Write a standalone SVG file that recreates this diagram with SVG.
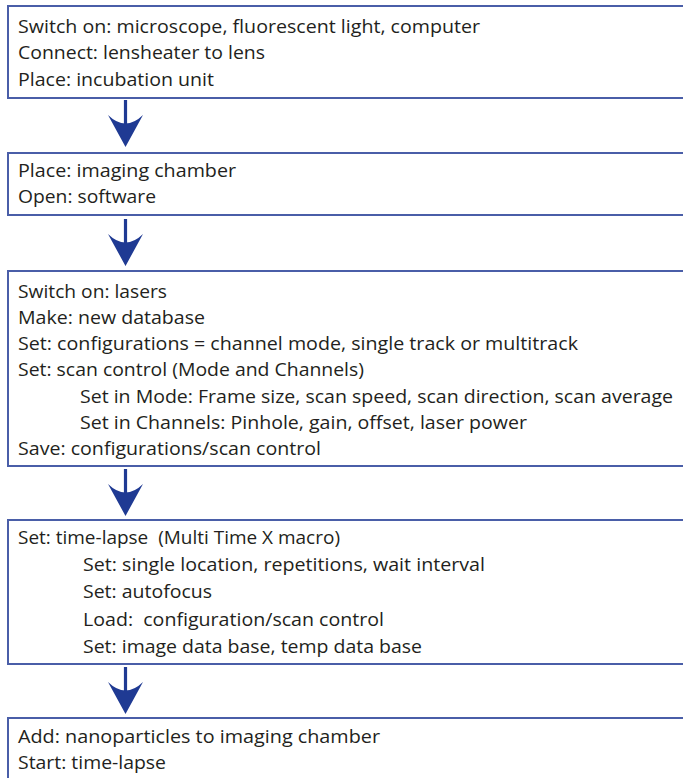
<svg xmlns="http://www.w3.org/2000/svg" xmlns:xlink="http://www.w3.org/1999/xlink" width="683" height="778" viewBox="0 0 683 778">
<style>
.box{fill:#ffffff;stroke:#4a5ea8;stroke-width:2}
text{font-family:"Open Sans","Noto Sans","Liberation Sans",sans-serif;font-size:19px;fill:#231f20}
.arr{fill:#1f3a93}
</style>
<defs>
<g id="arrow">
<rect x="-1.6" y="0" width="3.2" height="26" class="arr"/>
<path d="M-17.5,15 Q0,32 17.5,15 L0,47 Z" class="arr"/>
</g>
</defs>
<rect width="683" height="778" fill="#ffffff"/>
<g id="connectors">
<use xlink:href="#arrow" x="125.5" y="100"/>
<use xlink:href="#arrow" x="125.5" y="219"/>
<use xlink:href="#arrow" x="125.5" y="469"/>
<use xlink:href="#arrow" x="125.5" y="667"/>
</g>
<g id="step1">
<rect class="box" x="8" y="6" width="690" height="92"/>
<text x="18" y="33" textLength="462" lengthAdjust="spacingAndGlyphs">Switch on: microscope, fluorescent light, computer</text>
<text x="18" y="59" textLength="247" lengthAdjust="spacingAndGlyphs">Connect: lensheater to lens</text>
<text x="18" y="86" textLength="196" lengthAdjust="spacingAndGlyphs">Place: incubation unit</text>
</g>
<g id="step2">
<rect class="box" x="8" y="153" width="690" height="62"/>
<text x="18" y="177" textLength="218" lengthAdjust="spacingAndGlyphs">Place: imaging chamber</text>
<text x="18" y="203" textLength="138" lengthAdjust="spacingAndGlyphs">Open: software</text>
</g>
<g id="step3">
<rect class="box" x="8" y="271" width="690" height="195"/>
<text x="18" y="298" textLength="149" lengthAdjust="spacingAndGlyphs">Switch on: lasers</text>
<text x="18" y="324" textLength="187" lengthAdjust="spacingAndGlyphs">Make: new database</text>
<text x="18" y="350" textLength="560" lengthAdjust="spacingAndGlyphs">Set: configurations = channel mode, single track or multitrack</text>
<text x="18" y="376" textLength="346" lengthAdjust="spacingAndGlyphs">Set: scan control (Mode and Channels)</text>
<text x="80" y="403" textLength="593" lengthAdjust="spacingAndGlyphs">Set in Mode: Frame size, scan speed, scan direction, scan average</text>
<text x="80" y="429" textLength="447" lengthAdjust="spacingAndGlyphs">Set in Channels: Pinhole, gain, offset, laser power</text>
<text x="18" y="455" textLength="303" lengthAdjust="spacingAndGlyphs">Save: configurations/scan control</text>
</g>
<g id="step4">
<rect class="box" x="8" y="520" width="690" height="144"/>
<text x="18" y="544" textLength="322" lengthAdjust="spacingAndGlyphs" xml:space="preserve">Set: time-lapse  (Multi Time X macro)</text>
<text x="83" y="571" textLength="402" lengthAdjust="spacingAndGlyphs">Set: single location, repetitions, wait interval</text>
<text x="83" y="598" textLength="129" lengthAdjust="spacingAndGlyphs">Set: autofocus</text>
<text x="83" y="626" textLength="301" lengthAdjust="spacingAndGlyphs" xml:space="preserve">Load:  configuration/scan control</text>
<text x="83" y="653" textLength="339" lengthAdjust="spacingAndGlyphs">Set: image data base, temp data base</text>
</g>
<g id="step5">
<rect class="box" x="8" y="718" width="690" height="80"/>
<text x="18" y="743" textLength="362" lengthAdjust="spacingAndGlyphs">Add: nanoparticles to imaging chamber</text>
<text x="18" y="769" textLength="148" lengthAdjust="spacingAndGlyphs">Start: time-lapse</text>
</g>
</svg>
